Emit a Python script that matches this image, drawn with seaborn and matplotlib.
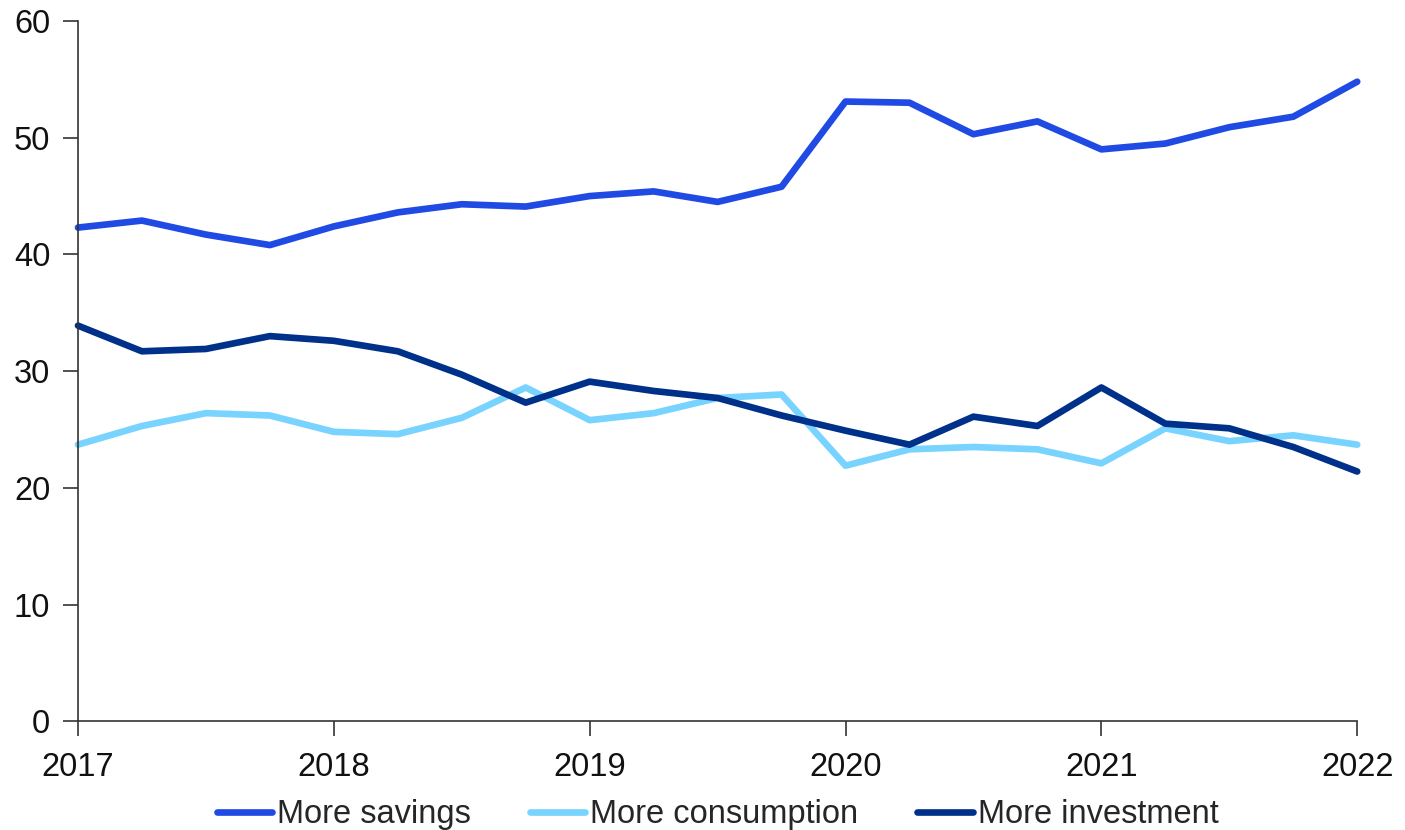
import numpy as np
import pandas as pd
import matplotlib
matplotlib.use("Agg")
import matplotlib.pyplot as plt
import seaborn as sns
from matplotlib import font_manager

quarters = [2017 + 0.25 * i for i in range(21)]

more_savings = [42.3, 42.9, 41.7, 40.8, 42.4, 43.6, 44.3, 44.1, 45.0, 45.4, 44.5,
                45.8, 53.1, 53.0, 50.3, 51.4, 49.0, 49.5, 50.9, 51.8, 54.8]
more_consumption = [23.7, 25.3, 26.4, 26.2, 24.8, 24.6, 26.0, 28.6, 25.8, 26.4, 27.7,
                    28.0, 21.9, 23.3, 23.5, 23.3, 22.1, 25.1, 24.0, 24.5, 23.7]
more_investment = [33.9, 31.7, 31.9, 33.0, 32.6, 31.7, 29.7, 27.3, 29.1, 28.3, 27.7,
                   26.2, 24.9, 23.7, 26.1, 25.3, 28.6, 25.5, 25.1, 23.5, 21.4]

series_names = ["More savings", "More consumption", "More investment"]
series_colors = ["#1f4ae3", "#78d3ff", "#00318a"]
year_ticks = [2017, 2018, 2019, 2020, 2021, 2022]
y_ticks = [0, 10, 20, 30, 40, 50, 60]

df = pd.DataFrame({
    "quarter": quarters * 3,
    "value": more_savings + more_consumption + more_investment,
    "series": [series_names[0]] * 21 + [series_names[1]] * 21 + [series_names[2]] * 21,
})

sns.set_theme(style="white")
available = {f.name for f in font_manager.fontManager.ttflist}
family = "Liberation Sans Narrow" if "Liberation Sans Narrow" in available else "Liberation Sans"
plt.rcParams["font.family"] = [family, "DejaVu Sans"]

fig = plt.figure(figsize=(14.05, 8.30), dpi=100)
ax = fig.add_axes([0.0555, 0.131, 0.9105, 0.8437])

sns.lineplot(data=df, x="quarter", y="value", hue="series", hue_order=series_names,
             palette=series_colors, linewidth=4.8, ax=ax, legend=True,
             solid_capstyle="round", solid_joinstyle="round")
for line in ax.get_lines():
    line.set_clip_on(False)

ax.set_xlim(2017, 2022)
ax.set_ylim(0, 60)
ax.set_xticks(year_ticks)
ax.set_xticklabels([str(y) for y in year_ticks])
ax.set_yticks(y_ticks)
ax.set_xlabel("")
ax.set_ylabel("")
for side in ["top", "right"]:
    ax.spines[side].set_visible(False)
for side in ["left", "bottom"]:
    ax.spines[side].set_color("#333333")
    ax.spines[side].set_linewidth(1.2)
ax.tick_params(axis="both", which="major", direction="out", length=11, width=1.2,
               color="#333333", labelsize=23.5, labelcolor="#111111", bottom=True, left=True)
ax.tick_params(axis="x", pad=11)
ax.tick_params(axis="y", pad=9)

handles, labels = ax.get_legend_handles_labels()
for h in handles:
    h.set_linewidth(4.8)
ax.legend(handles, labels, loc="upper center", bbox_to_anchor=(0.5, -0.093), ncol=3,
          frameon=False, fontsize=23.5, handlelength=1.7, handletextpad=0.15,
          columnspacing=1.8, borderaxespad=0)

fig.savefig("out.png", dpi=100)
